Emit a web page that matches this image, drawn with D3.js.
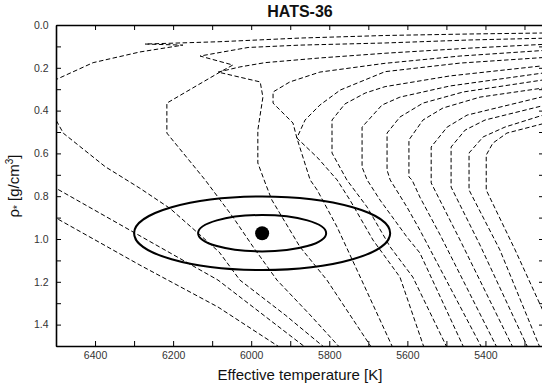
<!DOCTYPE html>
<html>
<head>
<meta charset="utf-8">
<script src="https://cdn.jsdelivr.net/npm/d3@7"></script>
<style>
  body { margin: 0; background: #fff; }
  svg { display: block; font-family: "Liberation Sans", Arial, sans-serif; }
</style>
</head>
<body>
<svg id="chart" width="542" height="385"></svg>
<script>
// isochrones as [Teff (K), rho (g/cm3)]
const iso1 = [[6541, 0.86], [6500, 0.902], [6285, 1.122], [6085, 1.318], [5916, 1.519]];
const iso2 = [[6541, 0.72], [6500, 0.763], [6085, 1.192], [5862, 1.505], [5849, 1.524]];
const iso3 = [[5811, 1.509], [5913, 1.355], [6029, 1.192], [6082, 1.061], [6131, 0.981], [6208, 0.857],
  [6285, 0.763], [6374, 0.662], [6481, 0.506], [6500, 0.444], [6528, 0.350], [6500, 0.255], [6405, 0.176],
  [6285, 0.126], [6175, 0.094], [6272, 0.089], [6080, 0.078], [5875, 0.061], [5657, 0.049], [5440, 0.042], [5235, 0.037]];
const iso4 = [[5772, 1.509], [5849, 1.355], [5934, 1.192], [5995, 1.037], [6047, 0.897], [6118, 0.724],
  [6216, 0.505], [6216, 0.365], [6080, 0.220], [6047, 0.187], [6131, 0.145], [6008, 0.105], [5875, 0.094],
  [5657, 0.084], [5440, 0.070], [5235, 0.061]];
const iso5 = [[5691, 1.509], [5806, 1.192], [5875, 1.037], [5947, 0.818], [5962, 0.748], [5983, 0.645],
  [5983, 0.491], [5970, 0.337], [5977, 0.266], [6085, 0.220], [6029, 0.196], [5965, 0.176], [5824, 0.154],
  [5657, 0.132], [5440, 0.108], [5235, 0.089]];
const iso6 = [[5637, 1.509], [5729, 1.145], [5780, 0.944], [5831, 0.771], [5849, 0.724], [5883, 0.528],
  [5893, 0.458], [5944, 0.365], [5944, 0.313], [5901, 0.266], [5824, 0.220], [5657, 0.179], [5465, 0.145], [5235, 0.117]];
const iso7 = [[5557, 1.509], [5619, 1.178], [5688, 1.005], [5747, 0.818], [5780, 0.724], [5829, 0.622],
  [5883, 0.528], [5862, 0.444], [5824, 0.374], [5772, 0.304], [5657, 0.218], [5465, 0.178], [5235, 0.150]];
const iso8 = [[5498, 1.509], [5586, 1.178], [5644, 1.037], [5703, 0.851], [5755, 0.724], [5793, 0.598],
  [5793, 0.444], [5760, 0.369], [5708, 0.318], [5657, 0.288], [5491, 0.238], [5235, 0.187]];
const iso9 = [[5455, 1.509], [5568, 1.065], [5601, 0.991], [5670, 0.818], [5703, 0.724], [5716, 0.664],
  [5716, 0.477], [5665, 0.374], [5619, 0.337], [5491, 0.285], [5235, 0.220]];
const iso10 = [[5409, 1.509], [5568, 0.958], [5601, 0.851], [5644, 0.724], [5652, 0.678], [5652, 0.505],
  [5619, 0.430], [5560, 0.365], [5457, 0.313], [5235, 0.252]];
const iso11 = [[5370, 1.509], [5516, 0.981], [5568, 0.804], [5588, 0.724], [5596, 0.710], [5596, 0.537],
  [5560, 0.444], [5509, 0.388], [5414, 0.337], [5235, 0.290]];
const iso12 = [[5329, 1.509], [5465, 1.005], [5539, 0.738], [5539, 0.570], [5498, 0.477], [5447, 0.421], [5235, 0.327]];
const iso13 = [[5291, 1.509], [5414, 1.028], [5488, 0.757], [5488, 0.570], [5452, 0.491], [5401, 0.444], [5235, 0.369]];
const iso14 = [[5260, 1.509], [5363, 1.051], [5442, 0.771], [5442, 0.598], [5406, 0.523], [5350, 0.477], [5235, 0.411]];
const iso15 = [[5209, 1.509], [5324, 1.051], [5398, 0.771], [5398, 0.608], [5381, 0.552], [5345, 0.505], [5235, 0.453]];
const isochrones = [iso1, iso2, iso3, iso4, iso5, iso6, iso7, iso8, iso9, iso10, iso11, iso12, iso13, iso14, iso15];

// HATS-36 and its 1 and 2 sigma ellipses
const starTeff = 5972;
const starRho = 0.973;
const sigmaTeff = [164, 328];
const sigmaRho = [0.085, 0.172];

const xTicks = d3.range(5300, 6501, 100);
const yTicks = d3.range(0, 16).map(d => d / 10);

const width = 542, height = 385;
const margin = { top: 25, right: -2, bottom: 39, left: 56 };

const svg = d3.select('#chart');
const x = d3.scaleLinear().domain([6500, 5250]).range([margin.left, width - margin.right]);
const y = d3.scaleLinear().domain([0, 1.5]).range([margin.top, height - margin.bottom]);

svg.append('defs').append('clipPath').attr('id', 'clip')
  .append('rect')
  .attr('x', x(6500)).attr('y', y(0))
  .attr('width', x(5250) - x(6500)).attr('height', y(1.5) - y(0));

const line = d3.line().x(d => x(d[0])).y(d => y(d[1]));

svg.append('g').attr('clip-path', 'url(#clip)')
  .selectAll('path')
  .data(isochrones)
  .join('path')
  .attr('d', line)
  .attr('fill', 'none')
  .attr('stroke', '#000')
  .attr('stroke-width', 1)
  .attr('stroke-dasharray', '4.5,2.5');

svg.append('g')
  .selectAll('ellipse')
  .data(sigmaTeff.map((t, i) => ({ t: t, r: sigmaRho[i] })))
  .join('ellipse')
  .attr('cx', x(starTeff))
  .attr('cy', y(starRho))
  .attr('rx', d => Math.abs(x(starTeff + d.t) - x(starTeff)))
  .attr('ry', d => Math.abs(y(starRho + d.r) - y(starRho)))
  .attr('fill', 'none')
  .attr('stroke', '#000')
  .attr('stroke-width', 2);

svg.append('circle')
  .attr('cx', x(starTeff))
  .attr('cy', y(starRho))
  .attr('r', 7)
  .attr('fill', '#000');

// axes, ticks pointing in
const fmtX = d => d % 200 === 0 ? d : '';
const fmtY = (d, i) => i % 2 === 0 ? d3.format('.1f')(d) : '';

const axBottom = svg.append('g').attr('transform', `translate(0,${y(1.5)})`)
  .call(d3.axisBottom(x).tickValues(xTicks).tickSizeInner(-5).tickSizeOuter(0).tickPadding(6).tickFormat(fmtX));
const axTop = svg.append('g').attr('transform', `translate(0,${y(0)})`)
  .call(d3.axisTop(x).tickValues(xTicks).tickSizeInner(-5).tickSizeOuter(0).tickFormat(''));
const axLeft = svg.append('g').attr('transform', `translate(${x(6500)},0)`)
  .call(d3.axisLeft(y).tickValues(yTicks).tickSizeInner(-5).tickSizeOuter(0).tickPadding(7.5).tickFormat(fmtY));
const axRight = svg.append('g').attr('transform', `translate(${x(5250)},0)`)
  .call(d3.axisRight(y).tickValues(yTicks).tickSizeInner(-5).tickSizeOuter(0).tickFormat(''));

[axBottom, axTop, axLeft, axRight].forEach(g => {
  g.attr('font-family', null).attr('font-size', null);
  g.select('.domain').attr('stroke', '#000').attr('stroke-width', 1.6);
  g.selectAll('.tick line').attr('stroke', '#000').attr('stroke-width', 1);
  g.selectAll('.tick text').style('font-size', '10.5px').attr('fill', '#333');
});

svg.append('text')
  .attr('x', (x(6500) + x(5250)) / 2)
  .attr('y', 16.5)
  .attr('text-anchor', 'middle')
  .style('font-size', '16px')
  .style('font-weight', 'bold')
  .attr('fill', '#111')
  .text('HATS-36');

svg.append('text')
  .attr('x', 300)
  .attr('y', 380)
  .attr('text-anchor', 'middle')
  .style('font-size', '15px')
  .attr('fill', '#111')
  .text('Effective temperature [K]');

const ylab = svg.append('text')
  .attr('transform', 'translate(19,186) rotate(-90)')
  .attr('text-anchor', 'middle')
  .style('font-size', '15px')
  .attr('fill', '#111');
ylab.append('tspan').text('ρ');
ylab.append('tspan').attr('dy', 2).style('font-size', '10px').text('*');
ylab.append('tspan').attr('dy', -2).text(' [g/cm');
ylab.append('tspan').attr('dy', -6).style('font-size', '10px').text('3');
ylab.append('tspan').attr('dy', 6).text(']');
</script>
</body>
</html>
